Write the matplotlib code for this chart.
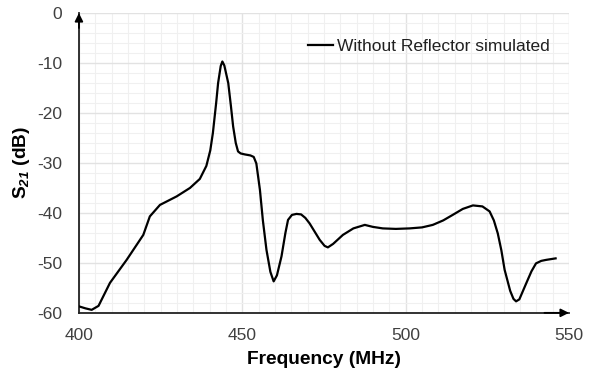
import matplotlib
matplotlib.use("Agg")
import matplotlib.pyplot as plt
from matplotlib.ticker import MultipleLocator

plt.rcParams['font.family'] = ['Liberation Sans', 'DejaVu Sans']
plt.rcParams['mathtext.fontset'] = 'custom'
plt.rcParams['mathtext.bf'] = 'Liberation Sans:bold'
plt.rcParams['mathtext.bfit'] = 'Liberation Sans:bold:italic'
plt.rcParams['mathtext.rm'] = 'Liberation Sans'
plt.rcParams['axes.unicode_minus'] = False

freq = [400.0, 402.0, 403.9, 406.0, 409.5, 414.6, 419.7, 421.7, 424.8, 429.9, 434.0,
        437.0, 439.0, 440.2, 441.0, 442.0, 442.6, 443.4, 443.9, 444.5, 445.7, 446.5,
        447.2, 448.0, 448.7, 449.5, 450.8, 452.5, 453.5, 454.3, 455.4, 456.3, 457.4,
        458.6, 459.6, 460.6, 462.0, 463.2, 464.0, 465.2, 466.6, 468.0, 469.3, 470.6,
        473.7, 475.2, 476.2, 477.8, 480.8, 484.0, 487.5, 490.0, 493.0, 497.0, 501.2,
        505.0, 508.3, 511.5, 514.4, 517.5, 520.6, 523.5, 525.7, 527.0, 528.2, 529.3,
        530.3, 532.0, 533.0, 533.8, 534.8, 536.9, 538.5, 539.9, 541.5, 543.0, 545.9]
s21 = [-58.7, -59.1, -59.4, -58.6, -54.0, -49.4, -44.4, -40.7, -38.4, -36.7, -35.0,
       -33.2, -30.6, -27.5, -24.0, -18.0, -14.0, -10.6, -9.7, -10.5, -14.0, -18.5,
       -22.7, -26.0, -27.7, -28.1, -28.3, -28.5, -28.8, -30.1, -35.4, -41.5, -47.4,
       -51.8, -53.7, -52.5, -48.7, -44.0, -41.4, -40.4, -40.2, -40.3, -41.0, -42.1,
       -45.4, -46.6, -46.9, -46.2, -44.4, -43.1, -42.4, -42.8, -43.1, -43.2, -43.1,
       -42.9, -42.4, -41.5, -40.4, -39.2, -38.5, -38.7, -39.7, -41.5, -44.1, -47.5,
       -51.4, -55.6, -57.2, -57.7, -57.3, -54.1, -51.7, -50.1, -49.6, -49.4, -49.1]

xticks = [400, 450, 500, 550]
yticks = [0, -10, -20, -30, -40, -50, -60]
series_label = 'Without Reflector simulated'

fig = plt.figure(figsize=(5.98, 3.72), dpi=100)
ax = fig.add_axes([0.132, 0.159, 0.8195, 0.806])

ax.plot(freq, s21, color='black', lw=1.6, label=series_label, zorder=3,
        solid_joinstyle='round')

ax.set_xlim(400, 550)
ax.set_ylim(-60, 0)
ax.set_xticks(xticks)
ax.set_yticks(yticks)
ax.xaxis.set_minor_locator(MultipleLocator(5))
ax.yaxis.set_minor_locator(MultipleLocator(2))
ax.grid(which='major', color='#e2e2e2', lw=1.0, zorder=0)
ax.grid(which='minor', color='#f0f0f0', lw=0.8, zorder=0)
ax.tick_params(which='both', length=0, labelsize=12.5, colors='#404040')
ax.tick_params(axis='y', pad=12)
ax.tick_params(axis='x', pad=11)

for s in ['top', 'right']:
    ax.spines[s].set_visible(False)
ax.spines['left'].set_color('#222222')
ax.spines['bottom'].set_color('#222222')
ax.spines['left'].set_linewidth(1.3)
ax.spines['bottom'].set_linewidth(1.3)

# arrows at axis ends
ax.annotate('', xy=(0, 1.0), xytext=(0, 0.95), xycoords='axes fraction',
            arrowprops=dict(arrowstyle='-|>', color='black', lw=1.3,
                            mutation_scale=12, shrinkA=0, shrinkB=0), annotation_clip=False)
ax.annotate('', xy=(1.0, 0), xytext=(0.95, 0), xycoords='axes fraction',
            arrowprops=dict(arrowstyle='-|>', color='black', lw=1.3,
                            mutation_scale=12, shrinkA=0, shrinkB=0), annotation_clip=False)

ax.set_xlabel('Frequency (MHz)', fontsize=13.8, fontweight='bold', labelpad=6)
ax.set_ylabel(r'$\mathbf{S}_{\mathbfit{21}}$ (dB)', fontsize=13.8, fontweight='bold', labelpad=4)

leg = ax.legend(loc='upper right', bbox_to_anchor=(0.992, 0.965), frameon=False,
                fontsize=12.5, handlelength=1.45, handletextpad=0.2)
for t in leg.get_texts():
    t.set_color('#202020')

fig.savefig('out.png', dpi=100)
